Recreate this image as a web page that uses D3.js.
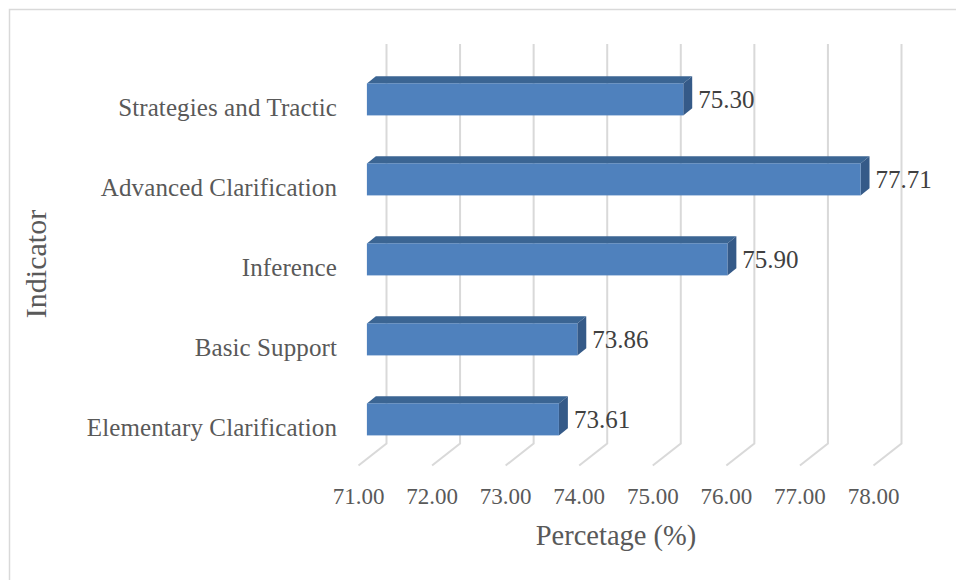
<!DOCTYPE html>
<html><head><meta charset="utf-8">
<script src="https://cdn.jsdelivr.net/npm/d3@7"></script>
<style>body{margin:0;background:#fff}</style>
</head><body>
<svg id="c" width="956" height="580"></svg>
<script>
const categories = ["Strategies and Tractic","Advanced Clarification","Inference","Basic Support","Elementary Clarification"];
const values = [75.30, 77.71, 75.90, 73.86, 73.61];
const tickValues = [71,72,73,74,75,76,77,78];
const xTitle = "Percetage (%)";
const yTitle = "Indicator";

const FONT = "'Liberation Serif','Times New Roman',serif";
const svg = d3.select("#c");
svg.append("rect").attr("x",9.5).attr("y",9.5).attr("width",960).attr("height",600)
  .attr("fill","#fff").attr("stroke","#d9d9d9").attr("stroke-width",1.5);

const x = d3.scaleLinear().domain([71,78]).range([386.5,901.5]);
const y = d3.scaleBand().domain(categories).range([44,444]).paddingInner(0.6).paddingOuter(0.3);
const depth = d => ({dx:-28*d, dy:22*d});
const F = depth(0.70), B = depth(0.38), FL = depth(1);
const yBottom = 443.5;

// gridlines (back wall + floor)
const grid = svg.append("g");
grid.selectAll("path").data(tickValues).join("path")
  .attr("d", t => `M${x(t)},44 L${x(t)},${yBottom} L${x(t)+FL.dx},${yBottom+FL.dy}`)
  .attr("fill","none").attr("stroke","#d9d9d9").attr("stroke-width",2);

// bars
const data = categories.map((c,i)=>({c, v: values[i]}));
const bars = svg.append("g").selectAll("g").data(data).join("g");
const x0 = x.domain()[0];
bars.append("path").attr("fill","#3b6593")
  .attr("d", d => {
    const y0f = y(d.c)+F.dy, y0b = y(d.c)+B.dy;
    return `M${x(x0)+F.dx},${y0f} L${x(d.v)+F.dx},${y0f} L${x(d.v)+B.dx},${y0b} L${x(x0)+B.dx},${y0b}Z`;
  });
bars.append("path").attr("fill","#355a88")
  .attr("d", d => {
    const y0f = y(d.c)+F.dy, y0b = y(d.c)+B.dy, h = y.bandwidth();
    return `M${x(d.v)+F.dx},${y0f} L${x(d.v)+B.dx},${y0b} L${x(d.v)+B.dx},${y0b+h} L${x(d.v)+F.dx},${y0f+h}Z`;
  });
bars.append("rect").attr("fill","#4f81bd")
  .attr("x", x(x0)+F.dx).attr("y", d => y(d.c)+F.dy)
  .attr("width", d => x(d.v)-x(x0)).attr("height", y.bandwidth());

// value labels
bars.append("text").attr("x", d => x(d.v)+B.dx+6).attr("y", d => y(d.c)+F.dy+y.bandwidth()/2+8.5)
  .attr("font-family",FONT).attr("font-size",25).attr("fill","#404040")
  .text(d => d.v.toFixed(2));

// category labels
svg.append("g").selectAll("text").data(categories).join("text")
  .attr("x", 337).attr("y", c => y(c)+y.bandwidth()/2+FL.dy+10)
  .attr("text-anchor","end").attr("font-family",FONT).attr("font-size",25)
  .attr("letter-spacing",0.1).attr("fill","#595959").text(c => c);

// tick labels
svg.append("g").selectAll("text").data(tickValues).join("text")
  .attr("x", t => x(t)+FL.dx).attr("y", 504)
  .attr("text-anchor","middle").attr("font-family",FONT).attr("font-size",23)
  .attr("fill","#595959").text(t => t.toFixed(2));

// axis titles
svg.append("text").attr("x",616).attr("y",545).attr("text-anchor","middle")
  .attr("font-family",FONT).attr("font-size",28.5).attr("fill","#595959").text(xTitle);
svg.append("text").attr("transform","translate(46,264) rotate(-90)").attr("text-anchor","middle")
  .attr("font-family",FONT).attr("font-size",30).attr("fill","#595959").text(yTitle);
</script>
</body></html>
